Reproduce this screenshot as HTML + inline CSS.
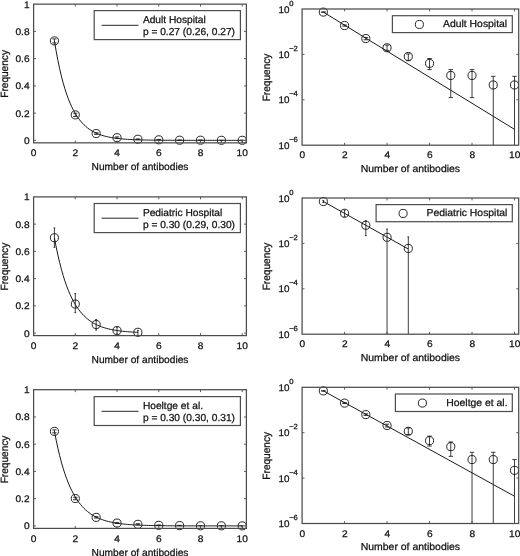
<!DOCTYPE html>
<html><head><meta charset="utf-8"><title>Figure</title>
<style>html,body{margin:0;padding:0;background:#fff}svg{display:block}text{text-rendering:geometricPrecision;stroke:#111;stroke-width:0.25px;paint-order:stroke}</style>
</head><body>
<svg width="520" height="556" viewBox="0 0 520 556" font-family='"Liberation Sans", sans-serif' fill="#111">
<rect width="520" height="556" fill="#fff"/>
<clipPath id="cl0"><rect x="33.6" y="4.15" width="212.8" height="138.7"/></clipPath>
<g clip-path="url(#cl0)">
<polyline points="54.42,40.92 56.16,51.20 57.90,60.42 59.64,68.68 61.38,76.09 63.12,82.73 64.85,88.69 66.59,94.03 68.33,98.82 70.07,103.11 71.81,106.96 73.55,110.41 75.29,113.50 77.03,116.28 78.77,118.77 80.51,121.00 82.25,123.00 83.99,124.79 85.72,126.40 87.46,127.84 89.20,129.14 90.94,130.29 92.68,131.33 94.42,132.27 96.16,133.10 97.90,133.85 99.64,134.52 101.38,135.13 103.12,135.67 104.86,136.15 106.59,136.58 108.33,136.97 110.07,137.32 111.81,137.64 113.55,137.92 115.29,138.17 117.03,138.39 118.77,138.60 120.51,138.78 122.25,138.94 123.99,139.09 125.73,139.22 127.47,139.33 129.20,139.44 130.94,139.53 132.68,139.62 134.42,139.69 136.16,139.76 137.90,139.82 139.64,139.88 141.38,139.93 143.12,139.97 144.86,140.01 146.60,140.04 148.34,140.08 150.07,140.10 151.81,140.13 153.55,140.15 155.29,140.17 157.03,140.19 158.77,140.21 160.51,140.22 162.25,140.24 163.99,140.25 165.73,140.26 167.47,140.27 169.20,140.28 170.94,140.28 172.68,140.29 174.42,140.30 176.16,140.30 177.90,140.31 179.64,140.31 181.38,140.32 183.12,140.32 184.86,140.32 186.60,140.33 188.34,140.33 190.07,140.33 191.81,140.33 193.55,140.33 195.29,140.34 197.03,140.34 198.77,140.34 200.51,140.34 202.25,140.34 203.99,140.34 205.73,140.34 207.47,140.34 209.21,140.34 210.94,140.34 212.68,140.35 214.42,140.35 216.16,140.35 217.90,140.35 219.64,140.35 221.38,140.35 223.12,140.35 224.86,140.35 226.60,140.35 228.34,140.35 230.08,140.35 231.81,140.35 233.55,140.35 235.29,140.35 237.03,140.35 238.77,140.35 240.51,140.35 242.25,140.35" fill="none" stroke="#1a1a1a" stroke-width="1.0"/>
<line x1="54.42" y1="42.97" x2="54.42" y2="38.88" stroke="#1a1a1a" stroke-width="0.85" />
<line x1="52.22" y1="38.88" x2="56.62" y2="38.88" stroke="#1a1a1a" stroke-width="0.85" />
<line x1="52.22" y1="42.97" x2="56.62" y2="42.97" stroke="#1a1a1a" stroke-width="0.85" />
<line x1="75.29" y1="116.51" x2="75.29" y2="113.25" stroke="#1a1a1a" stroke-width="0.85" />
<line x1="73.09" y1="113.25" x2="77.49" y2="113.25" stroke="#1a1a1a" stroke-width="0.85" />
<line x1="73.09" y1="116.51" x2="77.49" y2="116.51" stroke="#1a1a1a" stroke-width="0.85" />
<line x1="96.16" y1="134.36" x2="96.16" y2="132.72" stroke="#1a1a1a" stroke-width="0.85" />
<line x1="93.96" y1="132.72" x2="98.36" y2="132.72" stroke="#1a1a1a" stroke-width="0.85" />
<line x1="93.96" y1="134.36" x2="98.36" y2="134.36" stroke="#1a1a1a" stroke-width="0.85" />
<line x1="117.03" y1="138.31" x2="117.03" y2="136.88" stroke="#1a1a1a" stroke-width="0.85" />
<line x1="114.83" y1="136.88" x2="119.23" y2="136.88" stroke="#1a1a1a" stroke-width="0.85" />
<line x1="114.83" y1="138.31" x2="119.23" y2="138.31" stroke="#1a1a1a" stroke-width="0.85" />
<line x1="137.90" y1="139.63" x2="137.90" y2="138.92" stroke="#1a1a1a" stroke-width="0.85" />
<line x1="135.70" y1="138.92" x2="140.10" y2="138.92" stroke="#1a1a1a" stroke-width="0.85" />
<line x1="135.70" y1="139.63" x2="140.10" y2="139.63" stroke="#1a1a1a" stroke-width="0.85" />
<line x1="158.77" y1="140.06" x2="158.77" y2="139.45" stroke="#1a1a1a" stroke-width="0.85" />
<line x1="156.57" y1="139.45" x2="160.97" y2="139.45" stroke="#1a1a1a" stroke-width="0.85" />
<line x1="156.57" y1="140.06" x2="160.97" y2="140.06" stroke="#1a1a1a" stroke-width="0.85" />
<line x1="179.64" y1="140.33" x2="179.64" y2="140.06" stroke="#1a1a1a" stroke-width="0.85" />
<line x1="177.44" y1="140.06" x2="181.84" y2="140.06" stroke="#1a1a1a" stroke-width="0.85" />
<line x1="177.44" y1="140.33" x2="181.84" y2="140.33" stroke="#1a1a1a" stroke-width="0.85" />
<line x1="200.51" y1="140.33" x2="200.51" y2="140.06" stroke="#1a1a1a" stroke-width="0.85" />
<line x1="198.31" y1="140.06" x2="202.71" y2="140.06" stroke="#1a1a1a" stroke-width="0.85" />
<line x1="198.31" y1="140.33" x2="202.71" y2="140.33" stroke="#1a1a1a" stroke-width="0.85" />
<line x1="221.38" y1="147.16" x2="221.38" y2="140.20" stroke="#1a1a1a" stroke-width="0.85" />
<line x1="219.18" y1="140.20" x2="223.58" y2="140.20" stroke="#1a1a1a" stroke-width="0.85" />
<line x1="219.18" y1="147.16" x2="223.58" y2="147.16" stroke="#1a1a1a" stroke-width="0.85" />
<line x1="242.25" y1="147.16" x2="242.25" y2="140.20" stroke="#1a1a1a" stroke-width="0.85" />
<line x1="240.05" y1="140.20" x2="244.45" y2="140.20" stroke="#1a1a1a" stroke-width="0.85" />
<line x1="240.05" y1="147.16" x2="244.45" y2="147.16" stroke="#1a1a1a" stroke-width="0.85" />
</g>
<circle cx="54.42" cy="40.92" r="4.05" fill="none" stroke="#1a1a1a" stroke-width="0.95"/>
<circle cx="75.29" cy="114.88" r="4.05" fill="none" stroke="#1a1a1a" stroke-width="0.95"/>
<circle cx="96.16" cy="133.54" r="4.05" fill="none" stroke="#1a1a1a" stroke-width="0.95"/>
<circle cx="117.03" cy="137.68" r="4.05" fill="none" stroke="#1a1a1a" stroke-width="0.95"/>
<circle cx="137.90" cy="139.25" r="4.05" fill="none" stroke="#1a1a1a" stroke-width="0.95"/>
<circle cx="158.77" cy="139.81" r="4.05" fill="none" stroke="#1a1a1a" stroke-width="0.95"/>
<circle cx="179.64" cy="140.19" r="4.05" fill="none" stroke="#1a1a1a" stroke-width="0.95"/>
<circle cx="200.51" cy="140.19" r="4.05" fill="none" stroke="#1a1a1a" stroke-width="0.95"/>
<circle cx="221.38" cy="140.29" r="4.05" fill="none" stroke="#1a1a1a" stroke-width="0.95"/>
<circle cx="242.25" cy="140.29" r="4.05" fill="none" stroke="#1a1a1a" stroke-width="0.95"/>
<rect x="33.6" y="4.15" width="212.80" height="138.7" fill="none" stroke="#4c4c4c" stroke-width="1.25"/>
<text transform="translate(33.55,156.25) scale(1.06,1)" font-size="9.6" text-anchor="middle" >0</text>
<line x1="75.29" y1="142.85" x2="75.29" y2="140.45" stroke="#4c4c4c" stroke-width="0.9" />
<line x1="75.29" y1="4.15" x2="75.29" y2="6.55" stroke="#4c4c4c" stroke-width="0.9" />
<text transform="translate(75.29,156.25) scale(1.06,1)" font-size="9.6" text-anchor="middle" >2</text>
<line x1="117.03" y1="142.85" x2="117.03" y2="140.45" stroke="#4c4c4c" stroke-width="0.9" />
<line x1="117.03" y1="4.15" x2="117.03" y2="6.55" stroke="#4c4c4c" stroke-width="0.9" />
<text transform="translate(117.03,156.25) scale(1.06,1)" font-size="9.6" text-anchor="middle" >4</text>
<line x1="158.77" y1="142.85" x2="158.77" y2="140.45" stroke="#4c4c4c" stroke-width="0.9" />
<line x1="158.77" y1="4.15" x2="158.77" y2="6.55" stroke="#4c4c4c" stroke-width="0.9" />
<text transform="translate(158.77,156.25) scale(1.06,1)" font-size="9.6" text-anchor="middle" >6</text>
<line x1="200.51" y1="142.85" x2="200.51" y2="140.45" stroke="#4c4c4c" stroke-width="0.9" />
<line x1="200.51" y1="4.15" x2="200.51" y2="6.55" stroke="#4c4c4c" stroke-width="0.9" />
<text transform="translate(200.51,156.25) scale(1.06,1)" font-size="9.6" text-anchor="middle" >8</text>
<line x1="242.25" y1="142.85" x2="242.25" y2="140.45" stroke="#4c4c4c" stroke-width="0.9" />
<line x1="242.25" y1="4.15" x2="242.25" y2="6.55" stroke="#4c4c4c" stroke-width="0.9" />
<text transform="translate(242.25,156.25) scale(1.06,1)" font-size="9.6" text-anchor="middle" >10</text>
<line x1="33.60" y1="140.35" x2="36.00" y2="140.35" stroke="#4c4c4c" stroke-width="0.9" />
<line x1="246.40" y1="140.35" x2="244.00" y2="140.35" stroke="#4c4c4c" stroke-width="0.9" />
<text transform="translate(29.60,143.85) scale(1.06,1)" font-size="9.6" text-anchor="end" >0</text>
<line x1="33.60" y1="113.11" x2="36.00" y2="113.11" stroke="#4c4c4c" stroke-width="0.9" />
<line x1="246.40" y1="113.11" x2="244.00" y2="113.11" stroke="#4c4c4c" stroke-width="0.9" />
<text transform="translate(29.60,116.61) scale(1.06,1)" font-size="9.6" text-anchor="end" >0.2</text>
<line x1="33.60" y1="85.87" x2="36.00" y2="85.87" stroke="#4c4c4c" stroke-width="0.9" />
<line x1="246.40" y1="85.87" x2="244.00" y2="85.87" stroke="#4c4c4c" stroke-width="0.9" />
<text transform="translate(29.60,89.37) scale(1.06,1)" font-size="9.6" text-anchor="end" >0.4</text>
<line x1="33.60" y1="58.63" x2="36.00" y2="58.63" stroke="#4c4c4c" stroke-width="0.9" />
<line x1="246.40" y1="58.63" x2="244.00" y2="58.63" stroke="#4c4c4c" stroke-width="0.9" />
<text transform="translate(29.60,62.13) scale(1.06,1)" font-size="9.6" text-anchor="end" >0.6</text>
<line x1="33.60" y1="31.39" x2="36.00" y2="31.39" stroke="#4c4c4c" stroke-width="0.9" />
<line x1="246.40" y1="31.39" x2="244.00" y2="31.39" stroke="#4c4c4c" stroke-width="0.9" />
<text transform="translate(29.60,34.89) scale(1.06,1)" font-size="9.6" text-anchor="end" >0.8</text>
<text transform="translate(29.60,7.65) scale(1.06,1)" font-size="9.6" text-anchor="end" >1</text>
<text transform="translate(140.00,170.05) scale(1.01,1)" font-size="10.1" text-anchor="middle" >Number of antibodies</text>
<text transform="translate(7.7,73.90) rotate(-90) scale(1.0,1.04)" font-size="10.1" text-anchor="middle">Frequency</text>
<rect x="94.2" y="10.6" width="146.20" height="29.00" fill="#fff" stroke="#4c4c4c" stroke-width="1.2"/>
<line x1="101.60" y1="25.30" x2="138.50" y2="25.30" stroke="#1a1a1a" stroke-width="0.95" />
<text transform="translate(142.90,22.70) scale(1.01,1)" font-size="10.1" text-anchor="start" >Adult Hospital</text>
<text transform="translate(142.90,35.10) scale(1.01,1)" font-size="10.1" text-anchor="start" >p = 0.27 (0.26, 0.27)</text>
<clipPath id="cr0"><rect x="302.1" y="9.0" width="216.60" height="136.2"/></clipPath>
<g clip-path="url(#cr0)">
<line x1="323.34" y1="12.10" x2="514.50" y2="129.33" stroke="#1a1a1a" stroke-width="1.0" />
<line x1="323.34" y1="12.31" x2="323.34" y2="11.90" stroke="#1a1a1a" stroke-width="0.85" />
<line x1="321.14" y1="11.90" x2="325.54" y2="11.90" stroke="#1a1a1a" stroke-width="0.85" />
<line x1="321.14" y1="12.31" x2="325.54" y2="12.31" stroke="#1a1a1a" stroke-width="0.85" />
<line x1="344.58" y1="26.18" x2="344.58" y2="24.92" stroke="#1a1a1a" stroke-width="0.85" />
<line x1="342.38" y1="24.92" x2="346.78" y2="24.92" stroke="#1a1a1a" stroke-width="0.85" />
<line x1="342.38" y1="26.18" x2="346.78" y2="26.18" stroke="#1a1a1a" stroke-width="0.85" />
<line x1="365.82" y1="39.79" x2="365.82" y2="37.42" stroke="#1a1a1a" stroke-width="0.85" />
<line x1="363.62" y1="37.42" x2="368.02" y2="37.42" stroke="#1a1a1a" stroke-width="0.85" />
<line x1="363.62" y1="39.79" x2="368.02" y2="39.79" stroke="#1a1a1a" stroke-width="0.85" />
<line x1="387.06" y1="50.40" x2="387.06" y2="45.17" stroke="#1a1a1a" stroke-width="0.85" />
<line x1="384.86" y1="45.17" x2="389.26" y2="45.17" stroke="#1a1a1a" stroke-width="0.85" />
<line x1="384.86" y1="50.40" x2="389.26" y2="50.40" stroke="#1a1a1a" stroke-width="0.85" />
<line x1="408.30" y1="60.71" x2="408.30" y2="53.92" stroke="#1a1a1a" stroke-width="0.85" />
<line x1="406.10" y1="53.92" x2="410.50" y2="53.92" stroke="#1a1a1a" stroke-width="0.85" />
<line x1="406.10" y1="60.71" x2="410.50" y2="60.71" stroke="#1a1a1a" stroke-width="0.85" />
<line x1="429.54" y1="69.60" x2="429.54" y2="58.50" stroke="#1a1a1a" stroke-width="0.85" />
<line x1="427.34" y1="58.50" x2="431.74" y2="58.50" stroke="#1a1a1a" stroke-width="0.85" />
<line x1="427.34" y1="69.60" x2="431.74" y2="69.60" stroke="#1a1a1a" stroke-width="0.85" />
<line x1="450.78" y1="97.60" x2="450.78" y2="69.60" stroke="#1a1a1a" stroke-width="0.85" />
<line x1="448.58" y1="69.60" x2="452.98" y2="69.60" stroke="#1a1a1a" stroke-width="0.85" />
<line x1="448.58" y1="97.60" x2="452.98" y2="97.60" stroke="#1a1a1a" stroke-width="0.85" />
<line x1="472.02" y1="97.60" x2="472.02" y2="69.60" stroke="#1a1a1a" stroke-width="0.85" />
<line x1="469.82" y1="69.60" x2="474.22" y2="69.60" stroke="#1a1a1a" stroke-width="0.85" />
<line x1="469.82" y1="97.60" x2="474.22" y2="97.60" stroke="#1a1a1a" stroke-width="0.85" />
<line x1="493.26" y1="165.20" x2="493.26" y2="76.34" stroke="#1a1a1a" stroke-width="0.85" />
<line x1="491.06" y1="76.34" x2="495.46" y2="76.34" stroke="#1a1a1a" stroke-width="0.85" />
<line x1="491.06" y1="165.20" x2="495.46" y2="165.20" stroke="#1a1a1a" stroke-width="0.85" />
<line x1="514.50" y1="165.20" x2="514.50" y2="76.34" stroke="#1a1a1a" stroke-width="0.85" />
<line x1="512.30" y1="76.34" x2="516.70" y2="76.34" stroke="#1a1a1a" stroke-width="0.85" />
<line x1="512.30" y1="165.20" x2="516.70" y2="165.20" stroke="#1a1a1a" stroke-width="0.85" />
</g>
<circle cx="323.34" cy="12.10" r="4.05" fill="none" stroke="#1a1a1a" stroke-width="0.95"/>
<circle cx="344.58" cy="25.53" r="4.05" fill="none" stroke="#1a1a1a" stroke-width="0.95"/>
<circle cx="365.82" cy="38.53" r="4.05" fill="none" stroke="#1a1a1a" stroke-width="0.95"/>
<circle cx="387.06" cy="47.77" r="4.05" fill="none" stroke="#1a1a1a" stroke-width="0.95"/>
<circle cx="408.30" cy="56.48" r="4.05" fill="none" stroke="#1a1a1a" stroke-width="0.95"/>
<circle cx="429.54" cy="63.43" r="4.05" fill="none" stroke="#1a1a1a" stroke-width="0.95"/>
<circle cx="450.78" cy="75.47" r="4.05" fill="none" stroke="#1a1a1a" stroke-width="0.95"/>
<circle cx="472.02" cy="75.47" r="4.05" fill="none" stroke="#1a1a1a" stroke-width="0.95"/>
<circle cx="493.26" cy="84.97" r="4.05" fill="none" stroke="#1a1a1a" stroke-width="0.95"/>
<circle cx="514.50" cy="84.97" r="4.05" fill="none" stroke="#1a1a1a" stroke-width="0.95"/>
<rect x="302.1" y="9.0" width="216.60" height="136.2" fill="none" stroke="#4c4c4c" stroke-width="1.25"/>
<text transform="translate(302.30,158.30) scale(1.06,1)" font-size="9.6" text-anchor="middle" >0</text>
<line x1="344.58" y1="145.20" x2="344.58" y2="142.80" stroke="#4c4c4c" stroke-width="0.9" />
<line x1="344.58" y1="9.00" x2="344.58" y2="11.40" stroke="#4c4c4c" stroke-width="0.9" />
<text transform="translate(344.78,158.30) scale(1.06,1)" font-size="9.6" text-anchor="middle" >2</text>
<line x1="387.06" y1="145.20" x2="387.06" y2="142.80" stroke="#4c4c4c" stroke-width="0.9" />
<line x1="387.06" y1="9.00" x2="387.06" y2="11.40" stroke="#4c4c4c" stroke-width="0.9" />
<text transform="translate(387.26,158.30) scale(1.06,1)" font-size="9.6" text-anchor="middle" >4</text>
<line x1="429.54" y1="145.20" x2="429.54" y2="142.80" stroke="#4c4c4c" stroke-width="0.9" />
<line x1="429.54" y1="9.00" x2="429.54" y2="11.40" stroke="#4c4c4c" stroke-width="0.9" />
<text transform="translate(429.74,158.30) scale(1.06,1)" font-size="9.6" text-anchor="middle" >6</text>
<line x1="472.02" y1="145.20" x2="472.02" y2="142.80" stroke="#4c4c4c" stroke-width="0.9" />
<line x1="472.02" y1="9.00" x2="472.02" y2="11.40" stroke="#4c4c4c" stroke-width="0.9" />
<text transform="translate(472.22,158.30) scale(1.06,1)" font-size="9.6" text-anchor="middle" >8</text>
<line x1="514.50" y1="145.20" x2="514.50" y2="142.80" stroke="#4c4c4c" stroke-width="0.9" />
<line x1="514.50" y1="9.00" x2="514.50" y2="11.40" stroke="#4c4c4c" stroke-width="0.9" />
<text transform="translate(514.70,158.30) scale(1.06,1)" font-size="9.6" text-anchor="middle" >10</text>
<text transform="translate(278.6,12.50) scale(1.03,1)" font-size="9.6">10<tspan font-size="7.4" dy="-6.9" dx="-0.4">0</tspan></text>
<line x1="302.10" y1="54.40" x2="304.50" y2="54.40" stroke="#4c4c4c" stroke-width="0.9" />
<line x1="518.70" y1="54.40" x2="516.30" y2="54.40" stroke="#4c4c4c" stroke-width="0.9" />
<text transform="translate(278.6,57.90) scale(1.03,1)" font-size="9.6">10<tspan font-size="7.4" dy="-6.9" dx="-0.4">−2</tspan></text>
<line x1="302.10" y1="99.80" x2="304.50" y2="99.80" stroke="#4c4c4c" stroke-width="0.9" />
<line x1="518.70" y1="99.80" x2="516.30" y2="99.80" stroke="#4c4c4c" stroke-width="0.9" />
<text transform="translate(278.6,103.30) scale(1.03,1)" font-size="9.6">10<tspan font-size="7.4" dy="-6.9" dx="-0.4">−4</tspan></text>
<text transform="translate(278.6,148.70) scale(1.03,1)" font-size="9.6">10<tspan font-size="7.4" dy="-6.9" dx="-0.4">−6</tspan></text>
<text transform="translate(410.40,172.10) scale(1.035,1)" font-size="10.1" text-anchor="middle">Number of antibodies</text>
<text transform="translate(269.9,77.50) rotate(-90) scale(1.0,1.04)" font-size="10.1" text-anchor="middle">Frequency</text>
<rect x="392.4" y="15.7" width="119.90" height="16.90" fill="#fff" stroke="#4c4c4c" stroke-width="1.2"/>
<circle cx="419.40" cy="24.45" r="4.05" fill="none" stroke="#1a1a1a" stroke-width="0.95"/>
<text transform="translate(443.0,27.45) scale(1.03,1)" font-size="10.1">Adult Hospital</text>
<clipPath id="cl1"><rect x="33.6" y="196.9" width="212.8" height="138.7"/></clipPath>
<g clip-path="url(#cl1)">
<polyline points="54.42,237.76 56.16,246.86 57.90,255.09 59.64,262.54 61.38,269.28 63.12,275.37 64.85,280.88 66.59,285.87 68.33,290.37 70.07,294.45 71.81,298.14 73.55,301.48 75.29,304.50 77.03,307.23 78.77,309.70 80.51,311.93 82.25,313.95 83.99,315.78 85.72,317.43 87.46,318.93 89.20,320.28 90.94,321.51 92.68,322.61 94.42,323.61 96.16,324.52 97.90,325.34 99.64,326.08 101.38,326.75 103.12,327.36 104.86,327.90 106.59,328.40 108.33,328.85 110.07,329.25 111.81,329.62 113.55,329.95 115.29,330.25 117.03,330.53 118.77,330.77 120.51,330.99 122.25,331.19 123.99,331.38 125.73,331.54 127.47,331.69 129.20,331.82 130.94,331.95 132.68,332.06 134.42,332.16 136.16,332.25 137.90,332.33" fill="none" stroke="#1a1a1a" stroke-width="1.0"/>
<line x1="54.42" y1="247.29" x2="54.42" y2="227.95" stroke="#1a1a1a" stroke-width="0.85" />
<line x1="53.52" y1="227.95" x2="55.32" y2="227.95" stroke="#1a1a1a" stroke-width="0.85" />
<line x1="53.52" y1="247.29" x2="55.32" y2="247.29" stroke="#1a1a1a" stroke-width="0.85" />
<line x1="75.29" y1="312.67" x2="75.29" y2="293.60" stroke="#1a1a1a" stroke-width="0.85" />
<line x1="74.39" y1="293.60" x2="76.19" y2="293.60" stroke="#1a1a1a" stroke-width="0.85" />
<line x1="74.39" y1="312.67" x2="76.19" y2="312.67" stroke="#1a1a1a" stroke-width="0.85" />
<line x1="96.16" y1="330.10" x2="96.16" y2="319.48" stroke="#1a1a1a" stroke-width="0.85" />
<line x1="95.26" y1="319.48" x2="97.06" y2="319.48" stroke="#1a1a1a" stroke-width="0.85" />
<line x1="95.26" y1="330.10" x2="97.06" y2="330.10" stroke="#1a1a1a" stroke-width="0.85" />
<line x1="117.03" y1="339.91" x2="117.03" y2="327.24" stroke="#1a1a1a" stroke-width="0.85" />
<line x1="116.13" y1="327.24" x2="117.93" y2="327.24" stroke="#1a1a1a" stroke-width="0.85" />
<line x1="116.13" y1="339.91" x2="117.93" y2="339.91" stroke="#1a1a1a" stroke-width="0.85" />
<line x1="137.90" y1="339.91" x2="137.90" y2="330.47" stroke="#1a1a1a" stroke-width="0.85" />
<line x1="137.00" y1="330.47" x2="138.80" y2="330.47" stroke="#1a1a1a" stroke-width="0.85" />
<line x1="137.00" y1="339.91" x2="138.80" y2="339.91" stroke="#1a1a1a" stroke-width="0.85" />
</g>
<circle cx="54.42" cy="237.76" r="4.05" fill="none" stroke="#1a1a1a" stroke-width="0.95"/>
<circle cx="75.29" cy="304.09" r="4.05" fill="none" stroke="#1a1a1a" stroke-width="0.95"/>
<circle cx="96.16" cy="324.52" r="4.05" fill="none" stroke="#1a1a1a" stroke-width="0.95"/>
<circle cx="117.03" cy="330.57" r="4.05" fill="none" stroke="#1a1a1a" stroke-width="0.95"/>
<circle cx="137.90" cy="332.28" r="4.05" fill="none" stroke="#1a1a1a" stroke-width="0.95"/>
<rect x="33.6" y="196.9" width="212.80" height="138.7" fill="none" stroke="#4c4c4c" stroke-width="1.25"/>
<text transform="translate(33.55,349.00) scale(1.06,1)" font-size="9.6" text-anchor="middle" >0</text>
<line x1="75.29" y1="335.60" x2="75.29" y2="333.20" stroke="#4c4c4c" stroke-width="0.9" />
<line x1="75.29" y1="196.90" x2="75.29" y2="199.30" stroke="#4c4c4c" stroke-width="0.9" />
<text transform="translate(75.29,349.00) scale(1.06,1)" font-size="9.6" text-anchor="middle" >2</text>
<line x1="117.03" y1="335.60" x2="117.03" y2="333.20" stroke="#4c4c4c" stroke-width="0.9" />
<line x1="117.03" y1="196.90" x2="117.03" y2="199.30" stroke="#4c4c4c" stroke-width="0.9" />
<text transform="translate(117.03,349.00) scale(1.06,1)" font-size="9.6" text-anchor="middle" >4</text>
<line x1="158.77" y1="335.60" x2="158.77" y2="333.20" stroke="#4c4c4c" stroke-width="0.9" />
<line x1="158.77" y1="196.90" x2="158.77" y2="199.30" stroke="#4c4c4c" stroke-width="0.9" />
<text transform="translate(158.77,349.00) scale(1.06,1)" font-size="9.6" text-anchor="middle" >6</text>
<line x1="200.51" y1="335.60" x2="200.51" y2="333.20" stroke="#4c4c4c" stroke-width="0.9" />
<line x1="200.51" y1="196.90" x2="200.51" y2="199.30" stroke="#4c4c4c" stroke-width="0.9" />
<text transform="translate(200.51,349.00) scale(1.06,1)" font-size="9.6" text-anchor="middle" >8</text>
<line x1="242.25" y1="335.60" x2="242.25" y2="333.20" stroke="#4c4c4c" stroke-width="0.9" />
<line x1="242.25" y1="196.90" x2="242.25" y2="199.30" stroke="#4c4c4c" stroke-width="0.9" />
<text transform="translate(242.25,349.00) scale(1.06,1)" font-size="9.6" text-anchor="middle" >10</text>
<line x1="33.60" y1="333.10" x2="36.00" y2="333.10" stroke="#4c4c4c" stroke-width="0.9" />
<line x1="246.40" y1="333.10" x2="244.00" y2="333.10" stroke="#4c4c4c" stroke-width="0.9" />
<text transform="translate(29.60,336.60) scale(1.06,1)" font-size="9.6" text-anchor="end" >0</text>
<line x1="33.60" y1="305.86" x2="36.00" y2="305.86" stroke="#4c4c4c" stroke-width="0.9" />
<line x1="246.40" y1="305.86" x2="244.00" y2="305.86" stroke="#4c4c4c" stroke-width="0.9" />
<text transform="translate(29.60,309.36) scale(1.06,1)" font-size="9.6" text-anchor="end" >0.2</text>
<line x1="33.60" y1="278.62" x2="36.00" y2="278.62" stroke="#4c4c4c" stroke-width="0.9" />
<line x1="246.40" y1="278.62" x2="244.00" y2="278.62" stroke="#4c4c4c" stroke-width="0.9" />
<text transform="translate(29.60,282.12) scale(1.06,1)" font-size="9.6" text-anchor="end" >0.4</text>
<line x1="33.60" y1="251.38" x2="36.00" y2="251.38" stroke="#4c4c4c" stroke-width="0.9" />
<line x1="246.40" y1="251.38" x2="244.00" y2="251.38" stroke="#4c4c4c" stroke-width="0.9" />
<text transform="translate(29.60,254.88) scale(1.06,1)" font-size="9.6" text-anchor="end" >0.6</text>
<line x1="33.60" y1="224.14" x2="36.00" y2="224.14" stroke="#4c4c4c" stroke-width="0.9" />
<line x1="246.40" y1="224.14" x2="244.00" y2="224.14" stroke="#4c4c4c" stroke-width="0.9" />
<text transform="translate(29.60,227.64) scale(1.06,1)" font-size="9.6" text-anchor="end" >0.8</text>
<text transform="translate(29.60,200.40) scale(1.06,1)" font-size="9.6" text-anchor="end" >1</text>
<text transform="translate(140.00,362.80) scale(1.01,1)" font-size="10.1" text-anchor="middle" >Number of antibodies</text>
<text transform="translate(7.7,266.65) rotate(-90) scale(1.0,1.04)" font-size="10.1" text-anchor="middle">Frequency</text>
<rect x="94.2" y="203.5" width="146.20" height="29.10" fill="#fff" stroke="#4c4c4c" stroke-width="1.2"/>
<line x1="101.60" y1="218.20" x2="138.50" y2="218.20" stroke="#1a1a1a" stroke-width="0.95" />
<text transform="translate(142.90,215.60) scale(1.01,1)" font-size="10.1" text-anchor="start" >Pediatric Hospital</text>
<text transform="translate(142.90,228.00) scale(1.01,1)" font-size="10.1" text-anchor="start" >p = 0.30 (0.29, 0.30)</text>
<clipPath id="cr1"><rect x="302.1" y="198.0" width="216.60" height="136.2"/></clipPath>
<g clip-path="url(#cr1)">
<line x1="323.34" y1="201.52" x2="408.30" y2="248.99" stroke="#1a1a1a" stroke-width="1.0" />
<line x1="323.34" y1="202.55" x2="323.34" y2="200.55" stroke="#1a1a1a" stroke-width="0.85" />
<line x1="322.44" y1="200.55" x2="324.24" y2="200.55" stroke="#1a1a1a" stroke-width="0.85" />
<line x1="322.44" y1="202.55" x2="324.24" y2="202.55" stroke="#1a1a1a" stroke-width="0.85" />
<line x1="344.58" y1="216.70" x2="344.58" y2="210.20" stroke="#1a1a1a" stroke-width="0.85" />
<line x1="343.68" y1="210.20" x2="345.48" y2="210.20" stroke="#1a1a1a" stroke-width="0.85" />
<line x1="343.68" y1="216.70" x2="345.48" y2="216.70" stroke="#1a1a1a" stroke-width="0.85" />
<line x1="365.82" y1="235.63" x2="365.82" y2="220.70" stroke="#1a1a1a" stroke-width="0.85" />
<line x1="364.92" y1="220.70" x2="366.72" y2="220.70" stroke="#1a1a1a" stroke-width="0.85" />
<line x1="364.92" y1="235.63" x2="366.72" y2="235.63" stroke="#1a1a1a" stroke-width="0.85" />
<line x1="387.06" y1="354.20" x2="387.06" y2="229.02" stroke="#1a1a1a" stroke-width="0.85" />
<line x1="386.16" y1="229.02" x2="387.96" y2="229.02" stroke="#1a1a1a" stroke-width="0.85" />
<line x1="386.16" y1="354.20" x2="387.96" y2="354.20" stroke="#1a1a1a" stroke-width="0.85" />
<line x1="408.30" y1="354.20" x2="408.30" y2="236.92" stroke="#1a1a1a" stroke-width="0.85" />
<line x1="407.40" y1="236.92" x2="409.20" y2="236.92" stroke="#1a1a1a" stroke-width="0.85" />
<line x1="407.40" y1="354.20" x2="409.20" y2="354.20" stroke="#1a1a1a" stroke-width="0.85" />
</g>
<circle cx="323.34" cy="201.52" r="4.05" fill="none" stroke="#1a1a1a" stroke-width="0.95"/>
<circle cx="344.58" cy="213.25" r="4.05" fill="none" stroke="#1a1a1a" stroke-width="0.95"/>
<circle cx="365.82" cy="225.25" r="4.05" fill="none" stroke="#1a1a1a" stroke-width="0.95"/>
<circle cx="387.06" cy="237.28" r="4.05" fill="none" stroke="#1a1a1a" stroke-width="0.95"/>
<circle cx="408.30" cy="248.44" r="4.05" fill="none" stroke="#1a1a1a" stroke-width="0.95"/>
<rect x="302.1" y="198.0" width="216.60" height="136.2" fill="none" stroke="#4c4c4c" stroke-width="1.25"/>
<text transform="translate(302.30,347.30) scale(1.06,1)" font-size="9.6" text-anchor="middle" >0</text>
<line x1="344.58" y1="334.20" x2="344.58" y2="331.80" stroke="#4c4c4c" stroke-width="0.9" />
<line x1="344.58" y1="198.00" x2="344.58" y2="200.40" stroke="#4c4c4c" stroke-width="0.9" />
<text transform="translate(344.78,347.30) scale(1.06,1)" font-size="9.6" text-anchor="middle" >2</text>
<line x1="387.06" y1="334.20" x2="387.06" y2="331.80" stroke="#4c4c4c" stroke-width="0.9" />
<line x1="387.06" y1="198.00" x2="387.06" y2="200.40" stroke="#4c4c4c" stroke-width="0.9" />
<text transform="translate(387.26,347.30) scale(1.06,1)" font-size="9.6" text-anchor="middle" >4</text>
<line x1="429.54" y1="334.20" x2="429.54" y2="331.80" stroke="#4c4c4c" stroke-width="0.9" />
<line x1="429.54" y1="198.00" x2="429.54" y2="200.40" stroke="#4c4c4c" stroke-width="0.9" />
<text transform="translate(429.74,347.30) scale(1.06,1)" font-size="9.6" text-anchor="middle" >6</text>
<line x1="472.02" y1="334.20" x2="472.02" y2="331.80" stroke="#4c4c4c" stroke-width="0.9" />
<line x1="472.02" y1="198.00" x2="472.02" y2="200.40" stroke="#4c4c4c" stroke-width="0.9" />
<text transform="translate(472.22,347.30) scale(1.06,1)" font-size="9.6" text-anchor="middle" >8</text>
<line x1="514.50" y1="334.20" x2="514.50" y2="331.80" stroke="#4c4c4c" stroke-width="0.9" />
<line x1="514.50" y1="198.00" x2="514.50" y2="200.40" stroke="#4c4c4c" stroke-width="0.9" />
<text transform="translate(514.70,347.30) scale(1.06,1)" font-size="9.6" text-anchor="middle" >10</text>
<text transform="translate(278.6,201.50) scale(1.03,1)" font-size="9.6">10<tspan font-size="7.4" dy="-6.9" dx="-0.4">0</tspan></text>
<line x1="302.10" y1="243.40" x2="304.50" y2="243.40" stroke="#4c4c4c" stroke-width="0.9" />
<line x1="518.70" y1="243.40" x2="516.30" y2="243.40" stroke="#4c4c4c" stroke-width="0.9" />
<text transform="translate(278.6,246.90) scale(1.03,1)" font-size="9.6">10<tspan font-size="7.4" dy="-6.9" dx="-0.4">−2</tspan></text>
<line x1="302.10" y1="288.80" x2="304.50" y2="288.80" stroke="#4c4c4c" stroke-width="0.9" />
<line x1="518.70" y1="288.80" x2="516.30" y2="288.80" stroke="#4c4c4c" stroke-width="0.9" />
<text transform="translate(278.6,292.30) scale(1.03,1)" font-size="9.6">10<tspan font-size="7.4" dy="-6.9" dx="-0.4">−4</tspan></text>
<text transform="translate(278.6,337.70) scale(1.03,1)" font-size="9.6">10<tspan font-size="7.4" dy="-6.9" dx="-0.4">−6</tspan></text>
<text transform="translate(410.40,361.10) scale(1.035,1)" font-size="10.1" text-anchor="middle">Number of antibodies</text>
<text transform="translate(269.9,266.50) rotate(-90) scale(1.0,1.04)" font-size="10.1" text-anchor="middle">Frequency</text>
<rect x="376.1" y="204.6" width="136.20" height="17.10" fill="#fff" stroke="#4c4c4c" stroke-width="1.2"/>
<circle cx="403.10" cy="213.45" r="4.05" fill="none" stroke="#1a1a1a" stroke-width="0.95"/>
<text transform="translate(426.5,216.45) scale(1.03,1)" font-size="10.1">Pediatric Hospital</text>
<clipPath id="cl2"><rect x="33.6" y="389.7" width="212.8" height="138.7"/></clipPath>
<g clip-path="url(#cl2)">
<polyline points="54.42,431.24 56.16,440.16 57.90,448.24 59.64,455.55 61.38,462.18 63.12,468.19 64.85,473.62 66.59,478.55 68.33,483.01 70.07,487.05 71.81,490.71 73.55,494.03 75.29,497.03 77.03,499.75 78.77,502.21 80.51,504.44 82.25,506.47 83.99,508.30 85.72,509.96 87.46,511.46 89.20,512.82 90.94,514.05 92.68,515.17 94.42,516.18 96.16,517.09 97.90,517.92 99.64,518.68 101.38,519.36 103.12,519.97 104.86,520.53 106.59,521.04 108.33,521.50 110.07,521.91 111.81,522.29 113.55,522.63 115.29,522.93 117.03,523.21 118.77,523.47 120.51,523.70 122.25,523.90 123.99,524.09 125.73,524.26 127.47,524.42 129.20,524.56 130.94,524.68 132.68,524.80 134.42,524.90 136.16,525.00 137.90,525.08 139.64,525.16 141.38,525.23 143.12,525.29 144.86,525.35 146.60,525.40 148.34,525.45 150.07,525.49 151.81,525.53 153.55,525.56 155.29,525.60 157.03,525.62 158.77,525.65 160.51,525.67 162.25,525.70 163.99,525.71 165.73,525.73 167.47,525.75 169.20,525.76 170.94,525.78 172.68,525.79 174.42,525.80 176.16,525.81 177.90,525.82 179.64,525.82 181.38,525.83 183.12,525.84 184.86,525.84 186.60,525.85 188.34,525.85 190.07,525.86 191.81,525.86 193.55,525.87 195.29,525.87 197.03,525.87 198.77,525.87 200.51,525.88 202.25,525.88 203.99,525.88 205.73,525.88 207.47,525.88 209.21,525.89 210.94,525.89 212.68,525.89 214.42,525.89 216.16,525.89 217.90,525.89 219.64,525.89 221.38,525.89 223.12,525.89 224.86,525.89 226.60,525.89 228.34,525.90 230.08,525.90 231.81,525.90 233.55,525.90 235.29,525.90 237.03,525.90 238.77,525.90 240.51,525.90 242.25,525.90" fill="none" stroke="#1a1a1a" stroke-width="1.0"/>
<line x1="54.42" y1="432.88" x2="54.42" y2="429.88" stroke="#1a1a1a" stroke-width="0.85" />
<line x1="52.22" y1="429.88" x2="56.62" y2="429.88" stroke="#1a1a1a" stroke-width="0.85" />
<line x1="52.22" y1="432.88" x2="56.62" y2="432.88" stroke="#1a1a1a" stroke-width="0.85" />
<line x1="75.29" y1="499.75" x2="75.29" y2="497.30" stroke="#1a1a1a" stroke-width="0.85" />
<line x1="73.09" y1="497.30" x2="77.49" y2="497.30" stroke="#1a1a1a" stroke-width="0.85" />
<line x1="73.09" y1="499.75" x2="77.49" y2="499.75" stroke="#1a1a1a" stroke-width="0.85" />
<line x1="96.16" y1="518.04" x2="96.16" y2="516.68" stroke="#1a1a1a" stroke-width="0.85" />
<line x1="93.96" y1="516.68" x2="98.36" y2="516.68" stroke="#1a1a1a" stroke-width="0.85" />
<line x1="93.96" y1="518.04" x2="98.36" y2="518.04" stroke="#1a1a1a" stroke-width="0.85" />
<line x1="117.03" y1="523.48" x2="117.03" y2="522.66" stroke="#1a1a1a" stroke-width="0.85" />
<line x1="114.83" y1="522.66" x2="119.23" y2="522.66" stroke="#1a1a1a" stroke-width="0.85" />
<line x1="114.83" y1="523.48" x2="119.23" y2="523.48" stroke="#1a1a1a" stroke-width="0.85" />
<line x1="137.90" y1="524.77" x2="137.90" y2="523.71" stroke="#1a1a1a" stroke-width="0.85" />
<line x1="135.70" y1="523.71" x2="140.10" y2="523.71" stroke="#1a1a1a" stroke-width="0.85" />
<line x1="135.70" y1="524.77" x2="140.10" y2="524.77" stroke="#1a1a1a" stroke-width="0.85" />
<line x1="158.77" y1="525.55" x2="158.77" y2="524.93" stroke="#1a1a1a" stroke-width="0.85" />
<line x1="156.57" y1="524.93" x2="160.97" y2="524.93" stroke="#1a1a1a" stroke-width="0.85" />
<line x1="156.57" y1="525.55" x2="160.97" y2="525.55" stroke="#1a1a1a" stroke-width="0.85" />
<line x1="179.64" y1="525.78" x2="179.64" y2="525.37" stroke="#1a1a1a" stroke-width="0.85" />
<line x1="177.44" y1="525.37" x2="181.84" y2="525.37" stroke="#1a1a1a" stroke-width="0.85" />
<line x1="177.44" y1="525.78" x2="181.84" y2="525.78" stroke="#1a1a1a" stroke-width="0.85" />
<line x1="200.51" y1="532.71" x2="200.51" y2="525.71" stroke="#1a1a1a" stroke-width="0.85" />
<line x1="198.31" y1="525.71" x2="202.71" y2="525.71" stroke="#1a1a1a" stroke-width="0.85" />
<line x1="198.31" y1="532.71" x2="202.71" y2="532.71" stroke="#1a1a1a" stroke-width="0.85" />
<line x1="221.38" y1="532.71" x2="221.38" y2="525.71" stroke="#1a1a1a" stroke-width="0.85" />
<line x1="219.18" y1="525.71" x2="223.58" y2="525.71" stroke="#1a1a1a" stroke-width="0.85" />
<line x1="219.18" y1="532.71" x2="223.58" y2="532.71" stroke="#1a1a1a" stroke-width="0.85" />
<line x1="242.25" y1="532.71" x2="242.25" y2="525.81" stroke="#1a1a1a" stroke-width="0.85" />
<line x1="240.05" y1="525.81" x2="244.45" y2="525.81" stroke="#1a1a1a" stroke-width="0.85" />
<line x1="240.05" y1="532.71" x2="244.45" y2="532.71" stroke="#1a1a1a" stroke-width="0.85" />
</g>
<circle cx="54.42" cy="431.38" r="4.05" fill="none" stroke="#1a1a1a" stroke-width="0.95"/>
<circle cx="75.29" cy="498.52" r="4.05" fill="none" stroke="#1a1a1a" stroke-width="0.95"/>
<circle cx="96.16" cy="517.36" r="4.05" fill="none" stroke="#1a1a1a" stroke-width="0.95"/>
<circle cx="117.03" cy="523.07" r="4.05" fill="none" stroke="#1a1a1a" stroke-width="0.95"/>
<circle cx="137.90" cy="524.32" r="4.05" fill="none" stroke="#1a1a1a" stroke-width="0.95"/>
<circle cx="158.77" cy="525.30" r="4.05" fill="none" stroke="#1a1a1a" stroke-width="0.95"/>
<circle cx="179.64" cy="525.57" r="4.05" fill="none" stroke="#1a1a1a" stroke-width="0.95"/>
<circle cx="200.51" cy="525.81" r="4.05" fill="none" stroke="#1a1a1a" stroke-width="0.95"/>
<circle cx="221.38" cy="525.81" r="4.05" fill="none" stroke="#1a1a1a" stroke-width="0.95"/>
<circle cx="242.25" cy="525.87" r="4.05" fill="none" stroke="#1a1a1a" stroke-width="0.95"/>
<rect x="33.6" y="389.7" width="212.80" height="138.7" fill="none" stroke="#4c4c4c" stroke-width="1.25"/>
<text transform="translate(33.55,541.80) scale(1.06,1)" font-size="9.6" text-anchor="middle" >0</text>
<line x1="75.29" y1="528.40" x2="75.29" y2="526.00" stroke="#4c4c4c" stroke-width="0.9" />
<line x1="75.29" y1="389.70" x2="75.29" y2="392.10" stroke="#4c4c4c" stroke-width="0.9" />
<text transform="translate(75.29,541.80) scale(1.06,1)" font-size="9.6" text-anchor="middle" >2</text>
<line x1="117.03" y1="528.40" x2="117.03" y2="526.00" stroke="#4c4c4c" stroke-width="0.9" />
<line x1="117.03" y1="389.70" x2="117.03" y2="392.10" stroke="#4c4c4c" stroke-width="0.9" />
<text transform="translate(117.03,541.80) scale(1.06,1)" font-size="9.6" text-anchor="middle" >4</text>
<line x1="158.77" y1="528.40" x2="158.77" y2="526.00" stroke="#4c4c4c" stroke-width="0.9" />
<line x1="158.77" y1="389.70" x2="158.77" y2="392.10" stroke="#4c4c4c" stroke-width="0.9" />
<text transform="translate(158.77,541.80) scale(1.06,1)" font-size="9.6" text-anchor="middle" >6</text>
<line x1="200.51" y1="528.40" x2="200.51" y2="526.00" stroke="#4c4c4c" stroke-width="0.9" />
<line x1="200.51" y1="389.70" x2="200.51" y2="392.10" stroke="#4c4c4c" stroke-width="0.9" />
<text transform="translate(200.51,541.80) scale(1.06,1)" font-size="9.6" text-anchor="middle" >8</text>
<line x1="242.25" y1="528.40" x2="242.25" y2="526.00" stroke="#4c4c4c" stroke-width="0.9" />
<line x1="242.25" y1="389.70" x2="242.25" y2="392.10" stroke="#4c4c4c" stroke-width="0.9" />
<text transform="translate(242.25,541.80) scale(1.06,1)" font-size="9.6" text-anchor="middle" >10</text>
<line x1="33.60" y1="525.90" x2="36.00" y2="525.90" stroke="#4c4c4c" stroke-width="0.9" />
<line x1="246.40" y1="525.90" x2="244.00" y2="525.90" stroke="#4c4c4c" stroke-width="0.9" />
<text transform="translate(29.60,529.40) scale(1.06,1)" font-size="9.6" text-anchor="end" >0</text>
<line x1="33.60" y1="498.66" x2="36.00" y2="498.66" stroke="#4c4c4c" stroke-width="0.9" />
<line x1="246.40" y1="498.66" x2="244.00" y2="498.66" stroke="#4c4c4c" stroke-width="0.9" />
<text transform="translate(29.60,502.16) scale(1.06,1)" font-size="9.6" text-anchor="end" >0.2</text>
<line x1="33.60" y1="471.42" x2="36.00" y2="471.42" stroke="#4c4c4c" stroke-width="0.9" />
<line x1="246.40" y1="471.42" x2="244.00" y2="471.42" stroke="#4c4c4c" stroke-width="0.9" />
<text transform="translate(29.60,474.92) scale(1.06,1)" font-size="9.6" text-anchor="end" >0.4</text>
<line x1="33.60" y1="444.18" x2="36.00" y2="444.18" stroke="#4c4c4c" stroke-width="0.9" />
<line x1="246.40" y1="444.18" x2="244.00" y2="444.18" stroke="#4c4c4c" stroke-width="0.9" />
<text transform="translate(29.60,447.68) scale(1.06,1)" font-size="9.6" text-anchor="end" >0.6</text>
<line x1="33.60" y1="416.94" x2="36.00" y2="416.94" stroke="#4c4c4c" stroke-width="0.9" />
<line x1="246.40" y1="416.94" x2="244.00" y2="416.94" stroke="#4c4c4c" stroke-width="0.9" />
<text transform="translate(29.60,420.44) scale(1.06,1)" font-size="9.6" text-anchor="end" >0.8</text>
<text transform="translate(29.60,393.20) scale(1.06,1)" font-size="9.6" text-anchor="end" >1</text>
<text transform="translate(140.00,555.60) scale(1.01,1)" font-size="10.1" text-anchor="middle" >Number of antibodies</text>
<text transform="translate(7.7,459.45) rotate(-90) scale(1.0,1.04)" font-size="10.1" text-anchor="middle">Frequency</text>
<rect x="94.2" y="396.6" width="146.20" height="28.90" fill="#fff" stroke="#4c4c4c" stroke-width="1.2"/>
<line x1="101.60" y1="411.30" x2="138.50" y2="411.30" stroke="#1a1a1a" stroke-width="0.95" />
<text transform="translate(142.90,408.70) scale(1.01,1)" font-size="10.1" text-anchor="start" >Hoeltge et al.</text>
<text transform="translate(142.90,421.10) scale(1.01,1)" font-size="10.1" text-anchor="start" >p = 0.30 (0.30, 0.31)</text>
<clipPath id="cr2"><rect x="302.1" y="387.3" width="216.60" height="136.2"/></clipPath>
<g clip-path="url(#cr2)">
<line x1="323.34" y1="390.89" x2="514.50" y2="496.24" stroke="#1a1a1a" stroke-width="1.0" />
<line x1="323.34" y1="391.06" x2="323.34" y2="390.75" stroke="#1a1a1a" stroke-width="0.85" />
<line x1="321.14" y1="390.75" x2="325.54" y2="390.75" stroke="#1a1a1a" stroke-width="0.85" />
<line x1="321.14" y1="391.06" x2="325.54" y2="391.06" stroke="#1a1a1a" stroke-width="0.85" />
<line x1="344.58" y1="403.57" x2="344.58" y2="402.69" stroke="#1a1a1a" stroke-width="0.85" />
<line x1="342.38" y1="402.69" x2="346.78" y2="402.69" stroke="#1a1a1a" stroke-width="0.85" />
<line x1="342.38" y1="403.57" x2="346.78" y2="403.57" stroke="#1a1a1a" stroke-width="0.85" />
<line x1="365.82" y1="415.42" x2="365.82" y2="413.85" stroke="#1a1a1a" stroke-width="0.85" />
<line x1="363.62" y1="413.85" x2="368.02" y2="413.85" stroke="#1a1a1a" stroke-width="0.85" />
<line x1="363.62" y1="415.42" x2="368.02" y2="415.42" stroke="#1a1a1a" stroke-width="0.85" />
<line x1="387.06" y1="427.02" x2="387.06" y2="424.15" stroke="#1a1a1a" stroke-width="0.85" />
<line x1="384.86" y1="424.15" x2="389.26" y2="424.15" stroke="#1a1a1a" stroke-width="0.85" />
<line x1="384.86" y1="427.02" x2="389.26" y2="427.02" stroke="#1a1a1a" stroke-width="0.85" />
<line x1="408.30" y1="434.50" x2="408.30" y2="428.01" stroke="#1a1a1a" stroke-width="0.85" />
<line x1="406.10" y1="428.01" x2="410.50" y2="428.01" stroke="#1a1a1a" stroke-width="0.85" />
<line x1="406.10" y1="434.50" x2="410.50" y2="434.50" stroke="#1a1a1a" stroke-width="0.85" />
<line x1="429.54" y1="446.09" x2="429.54" y2="436.08" stroke="#1a1a1a" stroke-width="0.85" />
<line x1="427.34" y1="436.08" x2="431.74" y2="436.08" stroke="#1a1a1a" stroke-width="0.85" />
<line x1="427.34" y1="446.09" x2="431.74" y2="446.09" stroke="#1a1a1a" stroke-width="0.85" />
<line x1="450.78" y1="456.33" x2="450.78" y2="441.98" stroke="#1a1a1a" stroke-width="0.85" />
<line x1="448.58" y1="441.98" x2="452.98" y2="441.98" stroke="#1a1a1a" stroke-width="0.85" />
<line x1="448.58" y1="456.33" x2="452.98" y2="456.33" stroke="#1a1a1a" stroke-width="0.85" />
<line x1="472.02" y1="543.50" x2="472.02" y2="452.30" stroke="#1a1a1a" stroke-width="0.85" />
<line x1="469.82" y1="452.30" x2="474.22" y2="452.30" stroke="#1a1a1a" stroke-width="0.85" />
<line x1="469.82" y1="543.50" x2="474.22" y2="543.50" stroke="#1a1a1a" stroke-width="0.85" />
<line x1="493.26" y1="543.50" x2="493.26" y2="452.30" stroke="#1a1a1a" stroke-width="0.85" />
<line x1="491.06" y1="452.30" x2="495.46" y2="452.30" stroke="#1a1a1a" stroke-width="0.85" />
<line x1="491.06" y1="543.50" x2="495.46" y2="543.50" stroke="#1a1a1a" stroke-width="0.85" />
<line x1="514.50" y1="543.50" x2="514.50" y2="459.57" stroke="#1a1a1a" stroke-width="0.85" />
<line x1="512.30" y1="459.57" x2="516.70" y2="459.57" stroke="#1a1a1a" stroke-width="0.85" />
<line x1="512.30" y1="543.50" x2="516.70" y2="543.50" stroke="#1a1a1a" stroke-width="0.85" />
</g>
<circle cx="323.34" cy="390.90" r="4.05" fill="none" stroke="#1a1a1a" stroke-width="0.95"/>
<circle cx="344.58" cy="403.12" r="4.05" fill="none" stroke="#1a1a1a" stroke-width="0.95"/>
<circle cx="365.82" cy="414.60" r="4.05" fill="none" stroke="#1a1a1a" stroke-width="0.95"/>
<circle cx="387.06" cy="425.48" r="4.05" fill="none" stroke="#1a1a1a" stroke-width="0.95"/>
<circle cx="408.30" cy="431.24" r="4.05" fill="none" stroke="#1a1a1a" stroke-width="0.95"/>
<circle cx="429.54" cy="440.70" r="4.05" fill="none" stroke="#1a1a1a" stroke-width="0.95"/>
<circle cx="450.78" cy="446.61" r="4.05" fill="none" stroke="#1a1a1a" stroke-width="0.95"/>
<circle cx="472.02" cy="459.57" r="4.05" fill="none" stroke="#1a1a1a" stroke-width="0.95"/>
<circle cx="493.26" cy="459.57" r="4.05" fill="none" stroke="#1a1a1a" stroke-width="0.95"/>
<circle cx="514.50" cy="470.33" r="4.05" fill="none" stroke="#1a1a1a" stroke-width="0.95"/>
<rect x="302.1" y="387.3" width="216.60" height="136.2" fill="none" stroke="#4c4c4c" stroke-width="1.25"/>
<text transform="translate(302.30,536.60) scale(1.06,1)" font-size="9.6" text-anchor="middle" >0</text>
<line x1="344.58" y1="523.50" x2="344.58" y2="521.10" stroke="#4c4c4c" stroke-width="0.9" />
<line x1="344.58" y1="387.30" x2="344.58" y2="389.70" stroke="#4c4c4c" stroke-width="0.9" />
<text transform="translate(344.78,536.60) scale(1.06,1)" font-size="9.6" text-anchor="middle" >2</text>
<line x1="387.06" y1="523.50" x2="387.06" y2="521.10" stroke="#4c4c4c" stroke-width="0.9" />
<line x1="387.06" y1="387.30" x2="387.06" y2="389.70" stroke="#4c4c4c" stroke-width="0.9" />
<text transform="translate(387.26,536.60) scale(1.06,1)" font-size="9.6" text-anchor="middle" >4</text>
<line x1="429.54" y1="523.50" x2="429.54" y2="521.10" stroke="#4c4c4c" stroke-width="0.9" />
<line x1="429.54" y1="387.30" x2="429.54" y2="389.70" stroke="#4c4c4c" stroke-width="0.9" />
<text transform="translate(429.74,536.60) scale(1.06,1)" font-size="9.6" text-anchor="middle" >6</text>
<line x1="472.02" y1="523.50" x2="472.02" y2="521.10" stroke="#4c4c4c" stroke-width="0.9" />
<line x1="472.02" y1="387.30" x2="472.02" y2="389.70" stroke="#4c4c4c" stroke-width="0.9" />
<text transform="translate(472.22,536.60) scale(1.06,1)" font-size="9.6" text-anchor="middle" >8</text>
<line x1="514.50" y1="523.50" x2="514.50" y2="521.10" stroke="#4c4c4c" stroke-width="0.9" />
<line x1="514.50" y1="387.30" x2="514.50" y2="389.70" stroke="#4c4c4c" stroke-width="0.9" />
<text transform="translate(514.70,536.60) scale(1.06,1)" font-size="9.6" text-anchor="middle" >10</text>
<text transform="translate(278.6,390.80) scale(1.03,1)" font-size="9.6">10<tspan font-size="7.4" dy="-6.9" dx="-0.4">0</tspan></text>
<line x1="302.10" y1="432.70" x2="304.50" y2="432.70" stroke="#4c4c4c" stroke-width="0.9" />
<line x1="518.70" y1="432.70" x2="516.30" y2="432.70" stroke="#4c4c4c" stroke-width="0.9" />
<text transform="translate(278.6,436.20) scale(1.03,1)" font-size="9.6">10<tspan font-size="7.4" dy="-6.9" dx="-0.4">−2</tspan></text>
<line x1="302.10" y1="478.10" x2="304.50" y2="478.10" stroke="#4c4c4c" stroke-width="0.9" />
<line x1="518.70" y1="478.10" x2="516.30" y2="478.10" stroke="#4c4c4c" stroke-width="0.9" />
<text transform="translate(278.6,481.60) scale(1.03,1)" font-size="9.6">10<tspan font-size="7.4" dy="-6.9" dx="-0.4">−4</tspan></text>
<text transform="translate(278.6,527.00) scale(1.03,1)" font-size="9.6">10<tspan font-size="7.4" dy="-6.9" dx="-0.4">−6</tspan></text>
<text transform="translate(410.40,550.40) scale(1.035,1)" font-size="10.1" text-anchor="middle">Number of antibodies</text>
<text transform="translate(269.9,455.80) rotate(-90) scale(1.0,1.04)" font-size="10.1" text-anchor="middle">Frequency</text>
<rect x="395.4" y="394.0" width="116.90" height="17.50" fill="#fff" stroke="#4c4c4c" stroke-width="1.2"/>
<circle cx="422.40" cy="403.05" r="4.05" fill="none" stroke="#1a1a1a" stroke-width="0.95"/>
<text transform="translate(446.3,406.05) scale(1.03,1)" font-size="10.1">Hoeltge et al.</text>
</svg>
</body></html>
